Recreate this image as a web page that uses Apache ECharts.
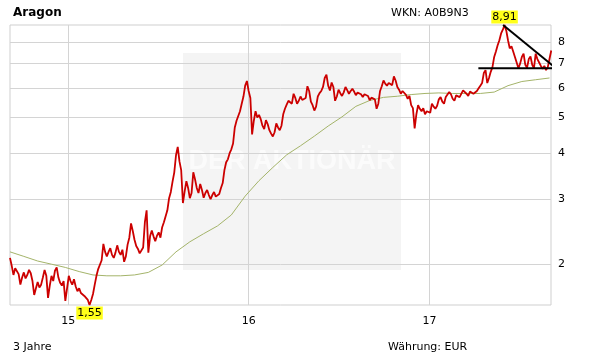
<!DOCTYPE html>
<html><head><meta charset="utf-8">
<script src="https://cdn.jsdelivr.net/npm/echarts@6/dist/echarts.min.js"></script>
<style>html,body{margin:0;padding:0;background:#fff}#c{width:611px;height:364px}</style>
</head><body><div id="c"></div>
<script>
// closing prices (EUR), two readings per week, first reading 2014-09-05
const stepDays = 3.5;
const prices = [
 2.08,1.98, 1.87,1.95, 1.96,1.88, 1.76,1.84, 1.90,1.83, 1.87,1.93, 1.89,1.80, 1.65,1.72, 1.79,1.73, 1.76,1.84,
 1.93,1.86, 1.62,1.75, 1.86,1.80, 1.92,1.96, 1.84,1.78, 1.75,1.80, 1.59,1.72, 1.86,1.80, 1.76,1.82, 1.74,1.69,
 1.72,1.67, 1.69,1.64, 1.65,1.60, 1.55,1.60, 1.66,1.76, 1.86,1.94, 1.95,2.05, 2.27,2.16, 2.10,2.16, 2.21,2.12,
 2.08,2.15, 2.25,2.16, 2.12,2.19, 2.03,2.10, 2.26,2.36, 2.58,2.46, 2.33,2.24, 2.20,2.14, 2.12,2.22, 2.60,2.80,
 2.15,2.38, 2.47,2.38, 2.31,2.39, 2.44,2.36, 2.52,2.60, 2.70,2.80, 3.02,3.14, 3.35,3.55, 3.95,4.16, 3.80,3.60,
 2.93,3.15, 3.36,3.22, 3.02,3.12, 3.55,3.40, 3.22,3.12, 3.30,3.18, 3.03,3.12, 3.18,3.08, 3.00,3.08, 3.14,3.05,
 3.03,3.10, 3.22,3.32, 3.60,3.78, 3.85,4.00, 4.10,4.25, 4.70,4.90, 4.95,5.20, 5.45,5.70, 6.10,6.28, 5.90,5.65,
 4.50,4.90, 5.20,5.00, 5.08,4.95, 4.75,4.65, 4.92,4.80, 4.62,4.52, 4.44,4.56, 4.82,4.70, 4.62,4.75, 5.10,5.28,
 5.42,5.55, 5.60,5.45, 5.80,5.65, 5.45,5.55, 5.70,5.58, 5.55,5.65, 6.08,5.90, 5.52,5.40, 5.22,5.35, 5.70,5.82,
 5.90,6.05, 6.40,6.53, 6.10,5.92, 6.22,6.05, 5.55,5.70, 5.95,5.82, 5.72,5.85, 6.05,5.93, 5.80,5.90, 5.98,5.88,
 5.75,5.84, 5.88,5.78, 5.68,5.78, 5.80,5.72, 5.57,5.66, 5.70,5.60, 5.28,5.45, 5.90,6.08, 6.30,6.18, 6.10,6.20,
 6.24,6.12, 6.46,6.30, 6.05,5.95, 5.80,5.90, 5.88,5.76, 5.62,5.72, 5.40,5.30, 4.67,5.10, 5.40,5.28, 5.20,5.30,
 5.10,5.20, 5.25,5.15, 5.45,5.35, 5.28,5.38, 5.60,5.68, 5.52,5.45, 5.68,5.75, 5.86,5.78, 5.62,5.55, 5.74,5.80,
 5.68,5.62, 5.92,5.98, 5.80,5.72, 5.88,5.94, 5.80,5.74, 5.90,6.00, 6.10,6.20, 6.60,6.72, 6.20,6.40, 6.65,6.85,
 7.30,7.55, 7.85,8.10, 8.45,8.65, 8.91,8.60, 8.10,7.70, 7.80,7.55, 7.30,7.05, 6.80,7.00, 7.30,7.45, 6.95,6.82,
 7.20,7.32, 6.95,6.80, 7.45,7.20, 7.05,6.90, 6.78,6.90, 6.72,6.85, 6.80,7.60
];
// 200-day moving average, one value every 4 weeks
const maEvery = 8;
const movingAvg = [
 2.16,2.10,2.04,2.00,1.96,1.91,1.87,1.86,1.86,1.87,
 1.90,1.99,2.16,2.30,2.42,2.54,2.72,3.06,3.37,3.66,
 3.96,4.19,4.45,4.74,5.02,5.36,5.56,5.67,5.71,5.77,
 5.81,5.83,5.81,5.81,5.81,5.86,6.10,6.26,6.33,6.40
];
const yTicks = [2,3,4,5,6,7,8];
const yearTicks = ['2015-01-01','2016-01-01','2017-01-01'];
const axisStart = '2014-09-05';
const axisEnd = '2017-09-04';
// trend lines
const supportDates = ['2017-04-10','2017-09-08'];
const supportValues = [6.8,6.8];
const resistDates = ['2017-05-30','2017-09-12'];
const resistValues = [8.91,6.84];

function ts(s){ const p = s.split('-').map(Number); return new Date(p[0], p[1]-1, p[2]).getTime(); }
const t0 = ts(axisStart);
function dateAt(j){ return t0 + j*stepDays*86400000; }
const FONT = 'DejaVu Sans';
const priceData = prices.map((v,j)=>[dateAt(j), v]);
const maData = movingAvg.map((v,k)=>[dateAt(k*maEvery), v]);
const supportData = supportDates.map((d,i)=>[ts(d), supportValues[i]]);
const resistData = resistDates.map((d,i)=>[ts(d), resistValues[i]]);
const yearTickTs = yearTicks.map(ts);

const chart = echarts.init(document.getElementById('c'), null, {renderer:'canvas'});
chart.setOption({
  animation:false,
  backgroundColor:'#fff',
  grid:{left:10, top:25, width:541, height:280, show:true, borderColor:'#cfcfcf', borderWidth:1, backgroundColor:'transparent'},
  xAxis:{
    type:'value', min:ts(axisStart), max:ts(axisEnd),
    axisLine:{show:false}, axisTick:{show:false, customValues:yearTickTs},
    splitLine:{show:true, lineStyle:{color:'#d4d4d4', width:1}},
    axisLabel:{customValues:yearTickTs, margin:11, color:'#000', fontSize:11, fontFamily:FONT,
      formatter:function(v){ return String(new Date(v).getFullYear()).slice(2); }}
  },
  yAxis:{
    type:'log', logBase:10, position:'right',
    min:Math.min.apply(null, prices), max:Math.max.apply(null, prices),
    axisLine:{show:false}, axisTick:{show:false}, axisLabel:{show:false}, splitLine:{show:false}
  },
  graphic:{elements:[
    {type:'rect', z:-1, shape:{x:183, y:53, width:218, height:217}, style:{fill:'#f4f4f4'}},
    {type:'text', z:-1, style:{x:292, y:162, text:'DER AKTIONÄR', fill:'#fbfbfb', font:'bold 27px "Liberation Sans"', align:'center', verticalAlign:'middle'}},
    {type:'text', style:{x:13, y:13, text:'Aragon', fill:'#000', font:'bold 12px "DejaVu Sans"', align:'left', verticalAlign:'middle'}},
    {type:'text', style:{x:391, y:13, text:'WKN: A0B9N3', fill:'#000', font:'11px "DejaVu Sans"', align:'left', verticalAlign:'middle'}},
    {type:'text', style:{x:13, y:347, text:'3 Jahre', fill:'#000', font:'11px "DejaVu Sans"', align:'left', verticalAlign:'middle'}},
    {type:'text', style:{x:388, y:347, text:'Währung: EUR', fill:'#000', font:'11px "DejaVu Sans"', align:'left', verticalAlign:'middle'}}
  ]},
  series:[
    {
      type:'line', name:'GD200', data:maData, showSymbol:false, z:2, silent:true,
      lineStyle:{color:'#a4b46a', width:1},
      markLine:{
        silent:true, z:1, symbol:'none', animation:false,
        lineStyle:{color:'#d4d4d4', width:1, type:'solid'},
        label:{position:'end', formatter:'{c}', color:'#000', fontSize:11, fontFamily:FONT, distance:7},
        emphasis:{disabled:true},
        data:yTicks.map(v=>({yAxis:v}))
      }
    },
    {
      type:'line', name:'Aragon', data:priceData, showSymbol:false, z:3, silent:true,
      lineStyle:{color:'#cc0000', width:1.8},
      markPoint:{
        symbol:'circle', symbolSize:1, itemStyle:{color:'rgba(0,0,0,0)'}, silent:true,
        label:{show:true, color:'#000', backgroundColor:'#ffff1a', padding:[1,1,0,1], lineHeight:12,
          fontSize:11, fontFamily:FONT, distance:1,
          formatter:function(p){ return p.value.toFixed(2).replace('.', ','); }},
        data:[{type:'max', label:{position:'top'}}, {type:'min', label:{position:'bottom'}}]
      }
    },
    {type:'line', data:supportData, showSymbol:false, clip:false, z:4, silent:true, lineStyle:{color:'#000', width:2}},
    {type:'line', data:resistData, showSymbol:false, clip:false, z:4, silent:true, lineStyle:{color:'#000', width:2}}
  ]
});
</script>
</body></html>
